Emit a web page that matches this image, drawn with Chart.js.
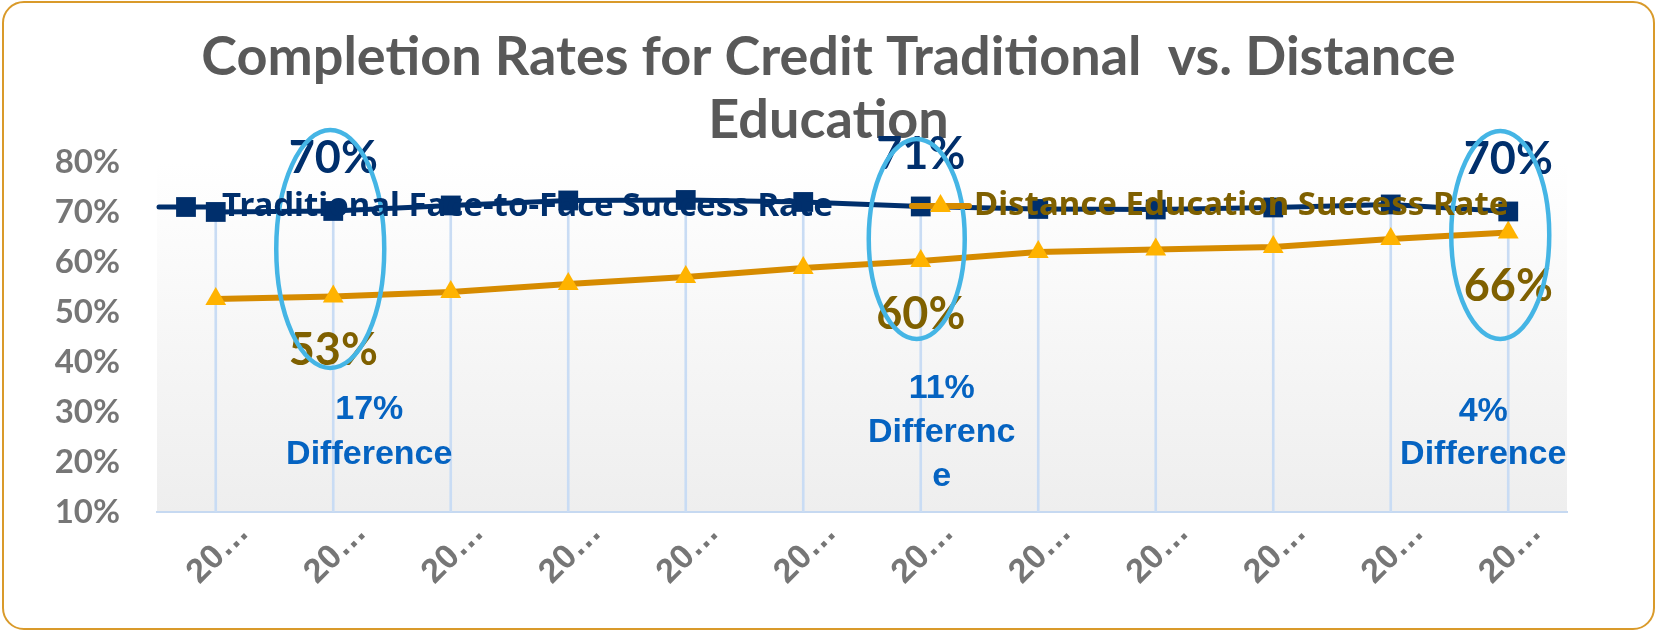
<!DOCTYPE html>
<html>
<head>
<meta charset="utf-8">
<script src="https://cdn.jsdelivr.net/npm/chart.js@4.4.1/dist/chart.umd.min.js"></script>
<style>
  html, body { margin: 0; padding: 0; background: #fff; }
  #wrap { position: relative; width: 1657px; height: 631px; }
  #frame {
    position: absolute; left: 2px; top: 1px; width: 1653px; height: 629px;
    box-sizing: border-box; border: 2px solid #d99a2a; border-radius: 22px;
    pointer-events: none;
  }
</style>
</head>
<body>
<div id="wrap">
  <canvas id="rateChart"></canvas>
  <div id="frame"></div>
</div>
<script>
// categories (labels are cut off in the original, only "20…" is shown)
const years = ['20…', '20…', '20…', '20…', '20…', '20…', '20…', '20…', '20…', '20…', '20…', '20…'];

const traditional = [70.0, 70.2, 71.3, 72.3, 72.4, 72.0, 71.1, 70.6, 70.5, 70.9, 71.5, 70.1];
const distance    = [52.6, 53.1, 54.0, 55.6, 57.0, 58.8, 60.2, 62.0, 62.5, 63.0, 64.6, 65.9];

const yTicks = [10, 20, 30, 40, 50, 60, 70, 80];

// years that get circled and labelled
const calloutIdx = [1, 6, 11];
const diffText = [
    ['17%', 'Difference'],
    ['11%', 'Differenc', 'e'],
    ['4%', 'Difference']
];

const navy = '#002f6c';
const gold = '#d68b00';
const amber = '#ffb300';
const darkGold = '#7f6000';

// plot background: white fading to light grey
const plotBg = {
    id: 'plotBg',
    beforeDraw(chart) {
        const {ctx, chartArea: a} = chart;
        let g = ctx.createLinearGradient(0, a.top, 0, a.bottom);
        g.addColorStop(0, '#ffffff');
        g.addColorStop(1, '#eeeeee');
        ctx.save();
        ctx.fillStyle = g;
        ctx.fillRect(a.left, a.top, a.right - a.left, a.bottom - a.top);
        ctx.restore();
    }
};

const extras = {
    id: 'extras',
    afterDatasetsDraw(chart) {
        const ctx = chart.ctx;
        const tradMeta = chart.getDatasetMeta(1);
        const distMeta = chart.getDatasetMeta(2);

        ctx.save();
        ctx.textAlign = 'center';
        ctx.textBaseline = 'middle';

        // value labels above / below the circled points
        ctx.font = 'bold 45px Lato';
        calloutIdx.forEach(i => {
            let p = tradMeta.data[i];
            ctx.fillStyle = navy;
            ctx.fillText(Math.round(traditional[i]) + '%', p.x, p.y - 52);
            let q = distMeta.data[i];
            ctx.fillStyle = darkGold;
            ctx.fillText(Math.round(distance[i]) + '%', q.x, q.y + 54);
        });

        // ellipses
        const rings = [
            {dx: -3, cy: 249, rx: 54, ry: 119},
            {dx: -4, cy: 239, rx: 48, ry: 100},
            {dx: -8, cy: 235, rx: 49, ry: 104}
        ];
        ctx.strokeStyle = '#45b5e5';
        ctx.lineWidth = 4.5;
        calloutIdx.forEach((i, k) => {
            let r = rings[k];
            ctx.beginPath();
            ctx.ellipse(tradMeta.data[i].x + r.dx, r.cy, r.rx, r.ry, 0, 0, Math.PI * 2);
            ctx.stroke();
        });

        // legend drawn over the plot, like the original
        const items = [
            {ds: chart.data.datasets[1], x0: 159, x1: 213, y: 207, tx: 222, color: navy},
            {ds: chart.data.datasets[2], x0: 912, x1: 969, y: 206, tx: 974, color: darkGold}
        ];
        items.forEach(it => {
            ctx.strokeStyle = it.ds.borderColor;
            ctx.lineWidth = it.ds.borderWidth;
            ctx.lineCap = 'round';
            ctx.beginPath();
            ctx.moveTo(it.x0, it.y);
            ctx.lineTo(it.x1, it.y);
            ctx.stroke();
            ctx.fillStyle = it.ds.pointBackgroundColor;
            ctx.strokeStyle = it.ds.pointBackgroundColor;
            Chart.helpers.drawPoint(ctx, {pointStyle: it.ds.pointStyle, radius: it.ds.pointRadius, borderWidth: 0, rotation: 0},
                (it.x0 + it.x1) / 2, it.y);
            ctx.fillStyle = it.color;
            ctx.textAlign = 'left';
            ctx.font = 'bold 33px "Noto Sans"';
            ctx.fillText(it.ds.label, it.tx, it.y);
        });

        // difference notes
        const notes = [
            {dx: 36, y: 410, lh: 45},
            {dx: 21, y: 389, lh: 44},
            {dx: -25, y: 412, lh: 43}
        ];
        ctx.fillStyle = '#0563c1';
        ctx.textAlign = 'center';
        ctx.font = 'bold 34px "Liberation Sans"';
        calloutIdx.forEach((i, k) => {
            let n = notes[k];
            diffText[k].forEach((line, j) => {
                ctx.fillText(line, tradMeta.data[i].x + n.dx, n.y + j * n.lh);
            });
        });
        ctx.restore();
    }
};

const dropLines = traditional.map((t, i) => [yTicks[0], Math.max(t, distance[i])]);

new Chart(document.getElementById('rateChart').getContext('2d'), {
    type: 'line',
    data: {
        labels: years,
        datasets: [
            {
                type: 'bar',
                label: 'drop lines',
                data: dropLines,
                backgroundColor: '#c9dcf4',
                barThickness: 2,
                order: 3
            },
            {
                label: 'Traditional Face-to-Face Success Rate',
                data: traditional,
                borderColor: navy,
                backgroundColor: navy,
                pointBackgroundColor: navy,
                pointBorderColor: navy,
                borderWidth: 5,
                pointStyle: 'rect',
                pointRadius: 14,
                pointBorderWidth: 0,
                tension: 0,
                order: 1
            },
            {
                label: 'Distance Education Success Rate',
                data: distance,
                borderColor: gold,
                backgroundColor: amber,
                pointBackgroundColor: amber,
                pointBorderColor: amber,
                borderWidth: 6,
                pointStyle: 'triangle',
                pointRadius: 12,
                pointBorderWidth: 0,
                tension: 0,
                order: 2
            }
        ]
    },
    options: {
        responsive: true,
        maintainAspectRatio: false,
        animation: false,
        layout: {padding: 0},
        plugins: {
            legend: {display: false},
            tooltip: {enabled: false},
            title: {
                display: true,
                text: ['Completion Rates for Credit Traditional  vs. Distance', 'Education'],
                color: '#595959',
                font: {family: 'Lato', size: 54, weight: 'bold', lineHeight: 1.17},
                padding: {top: 26, bottom: 9.6}
            }
        },
        scales: {
            x: {
                offset: true,
                grid: {display: false, drawTicks: false},
                border: {display: true, color: '#c6d9f1', width: 2},
                ticks: {
                    autoSkip: false,
                    minRotation: 45,
                    maxRotation: 45,
                    labelOffset: 28,
                    padding: 1,
                    color: '#767676',
                    font: {family: 'Liberation Sans', size: 34, weight: 'bold'}
                },
                afterFit: s => { s.height = 119; }
            },
            y: {
                min: 10,
                max: 80,
                grid: {display: false, drawTicks: false},
                border: {display: false},
                afterBuildTicks: s => { s.ticks = yTicks.map(v => ({value: v})); },
                ticks: {
                    padding: 37,
                    color: '#767676',
                    font: {family: 'Lato', size: 33, weight: 'bold'},
                    callback: v => v + '%'
                },
                afterFit: s => { s.width = 157; }
            },
            spacer: {
                position: 'right',
                grid: {display: false, drawTicks: false},
                border: {display: false},
                ticks: {display: false},
                afterFit: s => { s.width = 90; }
            }
        }
    },
    plugins: [plotBg, extras]
});
</script>
</body>
</html>
